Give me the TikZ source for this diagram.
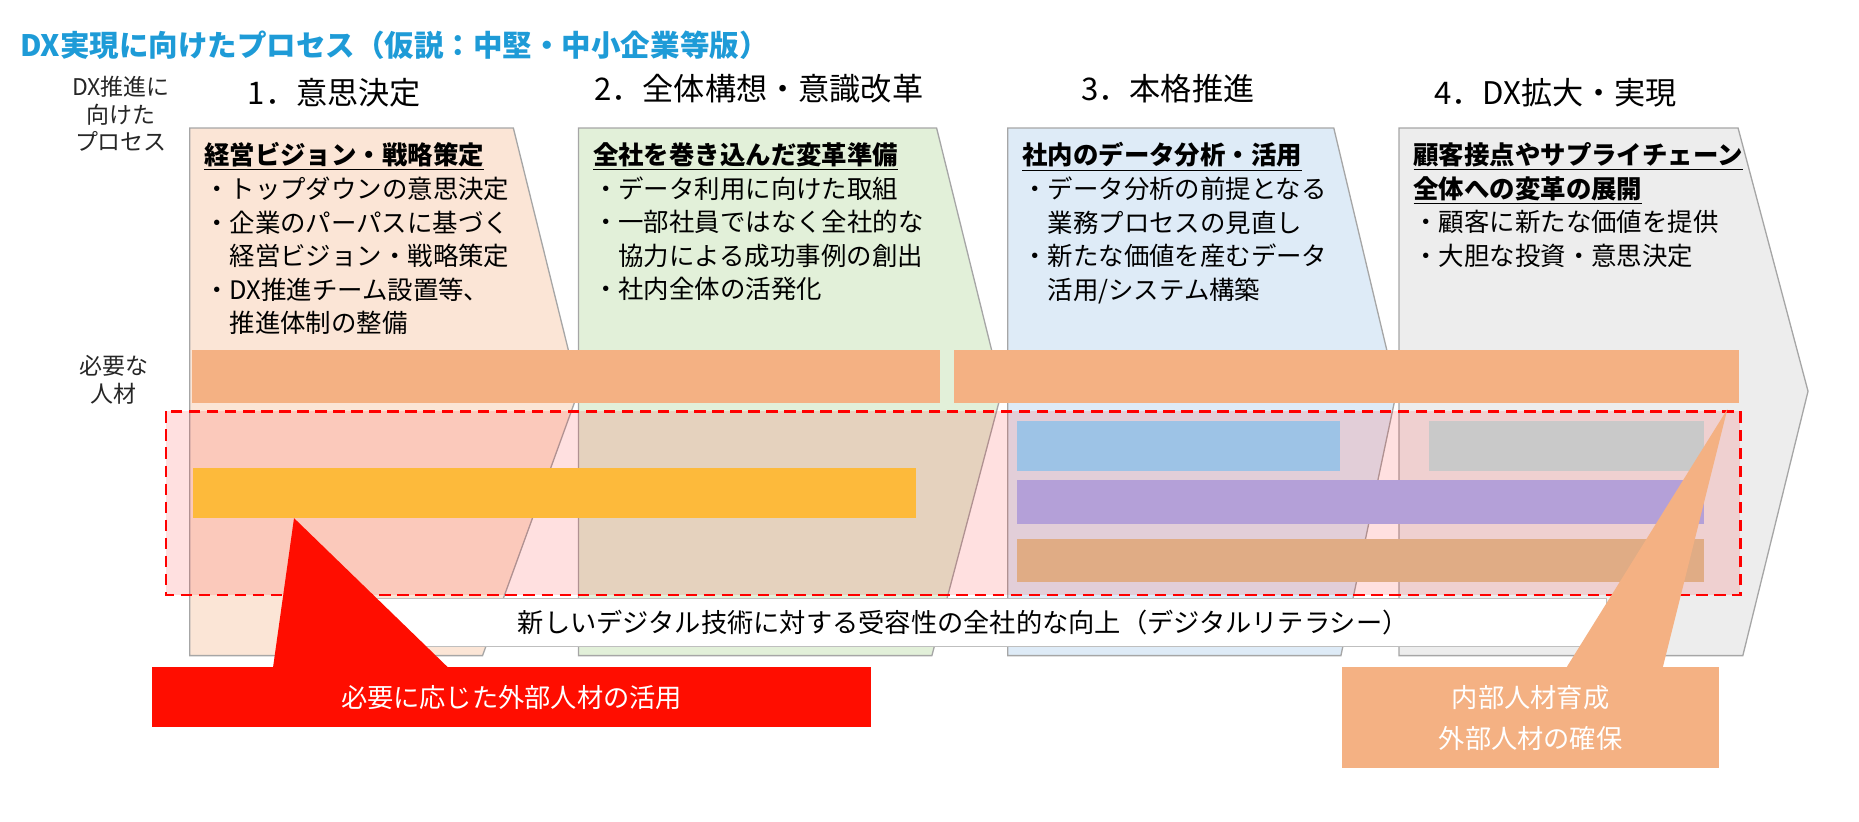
\documentclass[tikz,border=0pt]{standalone}
\usepackage{fontspec}
\setmainfont{Noto Sans CJK JP}
\usepackage{tikz}

\definecolor{titleblue}{HTML}{1E9BD7}
\definecolor{stageA}{HTML}{FBE5D6}
\definecolor{stageB}{HTML}{E2F0D9}
\definecolor{stageC}{HTML}{DEEBF7}
\definecolor{stageD}{HTML}{EDEDED}
\definecolor{bossbar}{HTML}{F4B183}
\definecolor{archbar}{HTML}{FDBA3B}
\definecolor{sciencebar}{HTML}{9DC3E6}
\definecolor{designbar}{HTML}{C9C9C9}
\definecolor{softbar}{HTML}{B4A0D8}
\definecolor{cyberbar}{HTML}{E0AC85}
\definecolor{calloutred}{HTML}{FF0D00}

\begin{document}
\begin{tikzpicture}[x=0.0254cm,y=-0.0254cm]
            \tikzstyle{stage}=[draw=black!35,line width=0.8pt]
            \tikzstyle{stagetext}=[anchor=north west,inner sep=0pt,align=left,font=\fontsize{15.5}{20.5}\selectfont]
            \tikzstyle{heading}=[font=\fontsize{19}{22}\selectfont]
            \tikzstyle{sidelabel}=[align=center,font=\fontsize{14}{17}\selectfont,text=black!85]
            \tikzstyle{rolebar}=[inner sep=0pt,font=\fontsize{16}{19}\selectfont]
            \useasboundingbox (0,0) rectangle (1568,693);
            % title and side labels
            \node[anchor=west,text=titleblue,font=\bfseries\fontsize{18}{20}\selectfont] (title) at (12,38) {DX実現に向けたプロセス（仮説：中堅・中小企業等版）};
            \node[sidelabel] (procLabel) at (102,96) {DX推進に\\向けた\\プロセス};
            \node[sidelabel] (staffLabel) at (96,320) {必要な\\人材};
            \node[heading] (headA) at (282,78) {1．意思決定};
            \node[heading] (headB) at (640,75) {2．全体構想・意識改革};
            \node[heading] (headC) at (985,75) {3．本格推進};
            \node[heading] (headD) at (1312,78) {4．DX拡大・実現};
            % stage shapes
            \draw[stage,fill=stageA] (160,108) -- (433,108) -- (488,330) -- (407,553) -- (160,553) -- cycle;
            \draw[stage,fill=stageB] (488,108) -- (790,108) -- (845,330) -- (786,553) -- (488,553) -- cycle;
            \draw[stage,fill=stageC] (850,108) -- (1125,108) -- (1178,330) -- (1131,553) -- (850,553) -- cycle;
            \draw[stage,fill=stageD] (1180,108) -- (1466,108) -- (1525,330) -- (1470,553) -- (1180,553) -- cycle;
            % stage texts
            \node[stagetext] (textA) at (172,120) {\underline{\textbf{経営ビジョン・戦略策定}}\\・トップダウンの意思決定\\・企業のパーパスに基づく\\\hspace{1em}経営ビジョン・戦略策定\\・DX推進チーム設置等、\\\hspace{1em}推進体制の整備};
            \node[stagetext] (textB) at (500,120) {\underline{\textbf{全社を巻き込んだ変革準備}}\\・データ利用に向けた取組\\・一部社員ではなく全社的な\\\hspace{1em}協力による成功事例の創出\\・社内全体の活発化};
            \node[stagetext] (textC) at (862,120) {\underline{\textbf{社内のデータ分析・活用}}\\・データ分析の前提となる\\\hspace{1em}業務プロセスの見直し\\・新たな価値を産むデータ\\\hspace{1em}活用/システム構築};
            \node[stagetext] (textD) at (1192,120) {\underline{\textbf{顧客接点やサプライチェーン}}\\\underline{\textbf{全体への変革の展開}}\\・顧客に新たな価値を提供\\・大胆な投資・意思決定};
            % staff bars
            \fill[bossbar] (162,295) rectangle node[rolebar] (ceoBar) {CEO/CIO/CDXO} (793,340);
            \fill[bossbar] (805,295) rectangle node[rolebar] (dxBar) {社内のDX推進担当者} (1467,340);
            \fill[red,opacity=0.12] (140,347) rectangle (1468,502);
            \fill[sciencebar] (858,355) rectangle node[rolebar] (scienceBar) {データサイエンティスト} (1130,397);
            \fill[designbar] (1205,355) rectangle node[rolebar] (designBar) {デザイナー} (1437,397);
            \fill[archbar] (163,395) rectangle node[rolebar] (archBar) {ビジネスアーキテクト} (773,437);
            \fill[softbar] (858,405) rectangle node[rolebar] (softBar) {ソフトウェアエンジニア} (1437,442);
            \fill[cyberbar] (858,455) rectangle node[rolebar] (cyberBar) {サイバーセキュリティ} (1437,491);
            \draw[red,line width=1.6pt,dash pattern=on 7pt off 4pt] (140,347) rectangle (1468,502);
            \draw[fill=white,draw=black!25] (270,505) rectangle node[rolebar] (literacyBar) {新しいデジタル技術に対する受容性の全社的な向上（デジタルリテラシー）} (1355,545);
            % callouts
            \coordinate (redTip) at (248,437);
            \coordinate (orangeTip) at (1457,345);
            \fill[calloutred] (redTip) -- (380,565) -- (230,565) -- cycle;
            \fill[calloutred] (128,563) rectangle node[rolebar,text=white] (externalNote) {必要に応じた外部人材の活用} (735,613);
            \fill[bossbar] (orangeTip) -- (1402,565) -- (1320,565) -- cycle;
            \fill[bossbar] (1132,563) rectangle node[rolebar,text=white,align=center,font=\fontsize{16}{25}\selectfont] (internalNote) {内部人材育成\\外部人材の確保} (1450,648);
        \end{tikzpicture}
\end{document}
